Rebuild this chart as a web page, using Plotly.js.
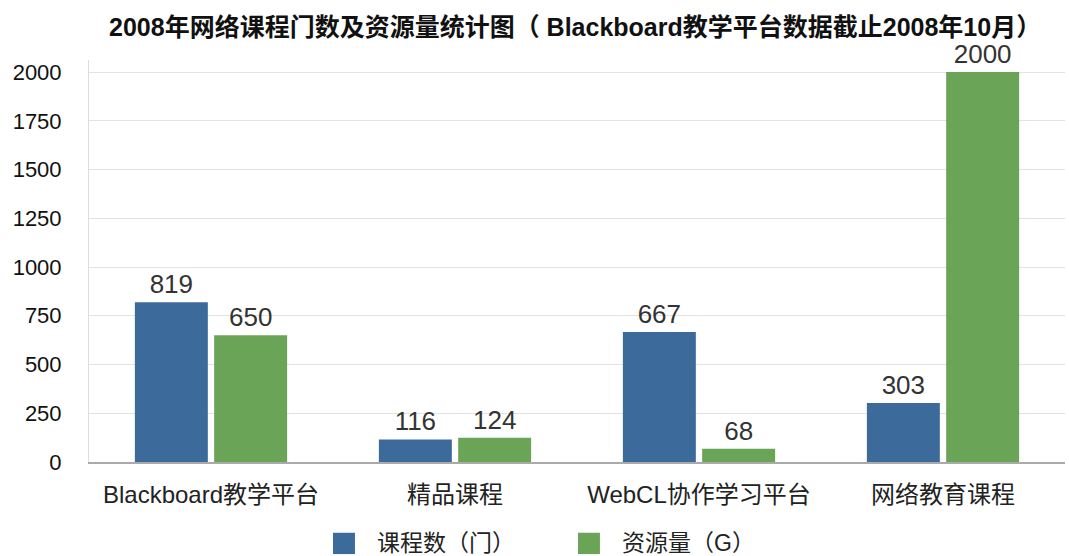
<!DOCTYPE html>
<html><head><meta charset="utf-8">
<script src="https://cdn.plot.ly/plotly-3.0.1.min.js"></script>
<style>html,body{margin:0;padding:0;background:#fff}#chart{width:1069px;height:556px}</style>
</head><body><div id="chart"></div>
<script>
const categories = ["Blackboard教学平台", "精品课程", "WebCL协作学习平台", "网络教育课程"];
const courseCounts = [819, 116, 667, 303];
const resourceAmounts = [650, 124, 68, 2000];
const seriesNames = ["课程数（门）", "资源量（G）"];
const seriesColors = ["#3B6A9B", "#6AA457"];
const yTicks = [0, 250, 500, 750, 1000, 1250, 1500, 1750, 2000];

const FONT = "Liberation Sans, Arial, 'Noto Sans CJK SC', sans-serif";
const common = {type: "bar", x: categories, textposition: "outside", cliponaxis: false,
  textfont: {family: FONT, size: 26, color: "#333"}, hoverinfo: "skip", showlegend: false};
const data = [
  Object.assign({}, common, {name: seriesNames[0], y: courseCounts, text: courseCounts.map(String),
    marker: {color: seriesColors[0]}}),
  Object.assign({}, common, {name: seriesNames[1], y: resourceAmounts, text: resourceAmounts.map(String),
    marker: {color: seriesColors[1]}})
];

// custom legend (large square swatches) in paper coordinates
const legendX = [0.25, 0.501];
const shapes = [], annotations = [];
seriesNames.forEach((n, i) => {
  shapes.push({type: "rect", xref: "paper", yref: "paper", x0: legendX[i], x1: legendX[i] + 0.0225,
    y0: -0.229, y1: -0.176, fillcolor: seriesColors[i], line: {width: 0}});
  annotations.push({xref: "paper", yref: "paper", x: legendX[i] + 0.043, y: -0.2025, xanchor: "left",
    yanchor: "middle", showarrow: false, text: n, font: {family: FONT, size: 23, color: "#222"}});
});

const layout = {
  width: 1069, height: 556,
  margin: {l: 89, r: 4, t: 60, b: 94},
  paper_bgcolor: "#fff", plot_bgcolor: "#fff",
  font: {family: FONT, color: "#222"},
  title: {text: "<b>2008年网络课程门数及资源量统计图（ Blackboard教学平台数据截止2008年10月）</b>",
    font: {family: FONT, size: 25, color: "#111"}, x: 0.538, xanchor: "center", y: 0.951, yanchor: "middle"},
  barmode: "group", bargap: 0.35, bargroupgap: 0.08,
  xaxis: {tickfont: {size: 24, color: "#222"}, showline: true, linecolor: "#aaa", linewidth: 2,
    ticks: "", showgrid: false, zeroline: false, ticklabelstandoff: 10},
  yaxis: {range: [0, 2062], tickvals: yTicks, ticktext: yTicks.map(String), tickfont: {size: 22, color: "#111"},
    showgrid: true, gridcolor: "#e2e2e2", gridwidth: 1, showline: true, linecolor: "#ddd", linewidth: 1,
    ticks: "", zeroline: false, automargin: false, ticklabelstandoff: 22},
  showlegend: false,
  shapes: shapes,
  annotations: annotations
};
Plotly.newPlot("chart", data, layout, {displayModeBar: false, staticPlot: true});
</script></body></html>
